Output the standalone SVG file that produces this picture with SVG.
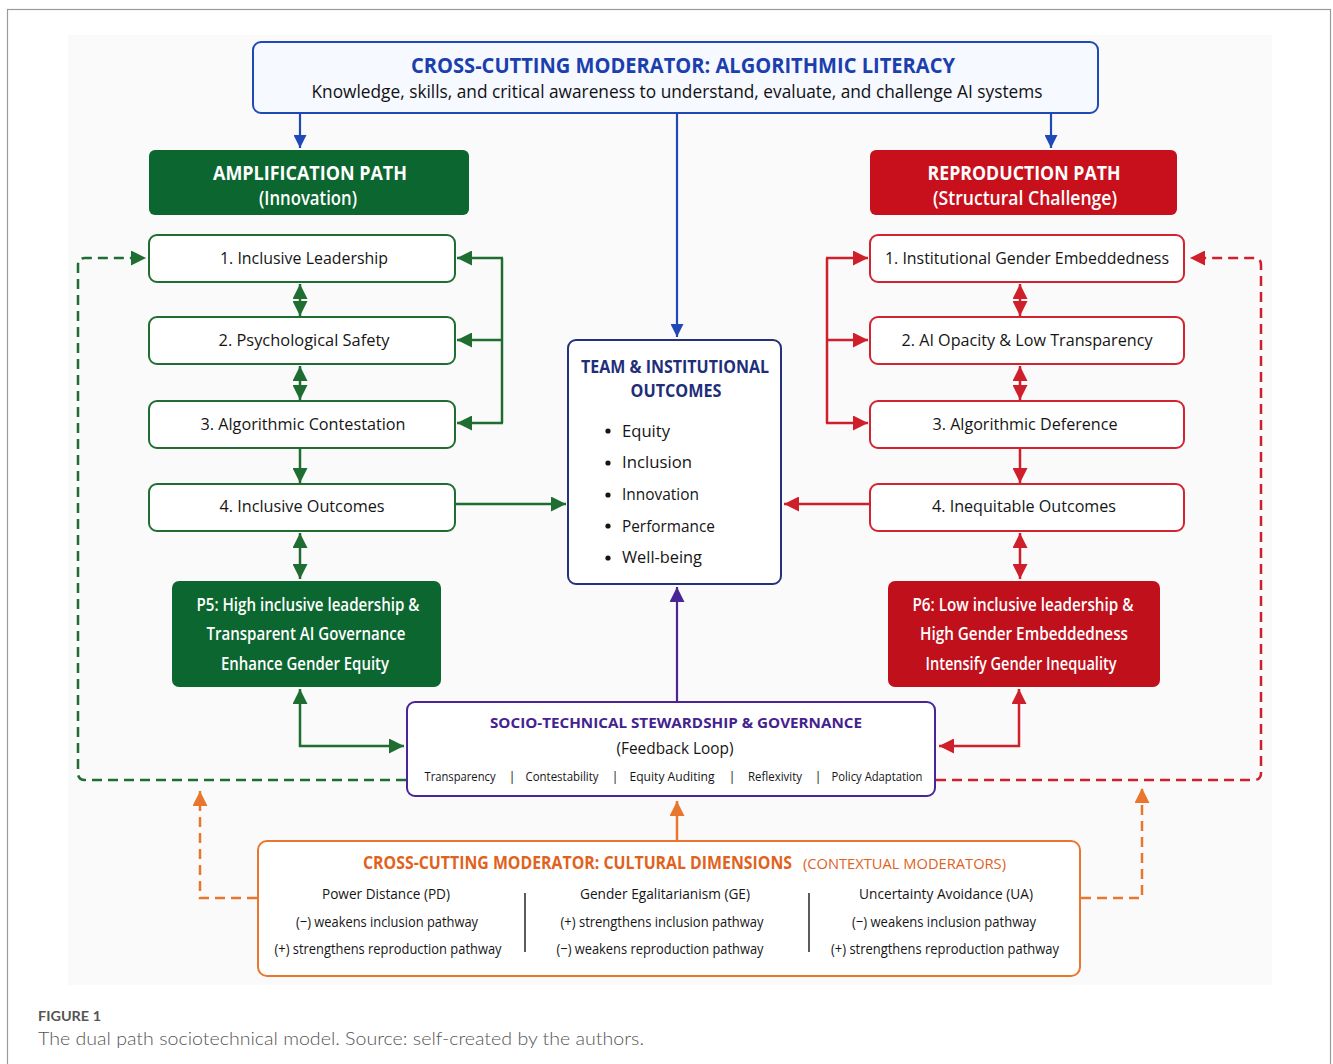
<svg xmlns="http://www.w3.org/2000/svg" width="1333" height="1064" viewBox="0 0 1333 1064">
<style>
text{font-family:"Open Sans","Noto Sans","Liberation Sans",sans-serif;}
.ttl{font-size:22px;font-weight:700;fill:#1c3fae;text-anchor:middle}
.sub{font-size:18px;font-weight:500;fill:#111;text-anchor:middle}
.hw{font-size:19px;font-weight:700;fill:#fff;text-anchor:middle}
.pw{font-size:18px;font-weight:600;fill:#fff;text-anchor:middle}
.it{font-size:17px;font-weight:500;fill:#151515;text-anchor:middle}
.nv{font-size:17px;font-weight:700;fill:#1f2e7a;text-anchor:middle}
.bl{font-size:17px;font-weight:500;fill:#151515}
.pu{font-size:15px;font-weight:700;fill:#44228f;text-anchor:middle}
.fb{font-size:16px;font-weight:500;fill:#151515;text-anchor:middle}
.sm{font-size:13px;font-weight:500;fill:#151515;text-anchor:middle}
.ot{font-size:17px;font-weight:700;fill:#e0621c}
.oc{font-size:15px;fill:#e0621c}
.cd{font-size:15px;font-weight:500;fill:#151515;text-anchor:middle}
.gbox{fill:#fff;stroke:#1f6d31;stroke-width:2}
.rbox{fill:#fff;stroke:#d12430;stroke-width:2}
.g{stroke:#1f6d31;stroke-width:2.5;fill:none}
.r{stroke:#cf1f2b;stroke-width:2.5;fill:none}
.b{stroke:#1f49b6;stroke-width:2.2;fill:none}
.p{stroke:#4a2596;stroke-width:2.2;fill:none}
.o{stroke:#e8772d;stroke-width:2.5;fill:none}
.dash{stroke-dasharray:10 6}
</style>
<defs>
<marker id="mg" viewBox="0 0 10 10" refX="10" refY="5" markerWidth="15" markerHeight="15" markerUnits="userSpaceOnUse" orient="auto-start-reverse"><path d="M0,0 L10,5 L0,10 z" fill="#1f6d31"/></marker>
<marker id="mr" viewBox="0 0 10 10" refX="10" refY="5" markerWidth="15" markerHeight="15" markerUnits="userSpaceOnUse" orient="auto-start-reverse"><path d="M0,0 L10,5 L0,10 z" fill="#cf1f2b"/></marker>
<marker id="mb" viewBox="0 0 10 10" refX="10" refY="5" markerWidth="13" markerHeight="13" markerUnits="userSpaceOnUse" orient="auto-start-reverse"><path d="M0,0 L10,5 L0,10 z" fill="#1f49b6"/></marker>
<marker id="mp" viewBox="0 0 10 10" refX="10" refY="5" markerWidth="15" markerHeight="15" markerUnits="userSpaceOnUse" orient="auto-start-reverse"><path d="M0,0 L10,5 L0,10 z" fill="#4a2596"/></marker>
<marker id="mo" viewBox="0 0 10 10" refX="10" refY="5" markerWidth="15" markerHeight="15" markerUnits="userSpaceOnUse" orient="auto-start-reverse"><path d="M0,0 L10,5 L0,10 z" fill="#e8772d"/></marker>
</defs>

<rect x="7.5" y="9.5" width="1323" height="1080" fill="#fff" stroke="#9a9a9a" stroke-width="1.2"/>
<rect x="68" y="35" width="1204" height="950" fill="#fafafa"/>

<g id="connectors">
  <path class="b" d="M300,113 V148" marker-end="url(#mb)"/>
  <path class="b" d="M1051,113 V148" marker-end="url(#mb)"/>
  <path class="b" d="M677,113 V337" marker-end="url(#mb)"/>

  <path class="g" d="M502,258 V423"/>
  <path class="g" d="M503,258 H457" marker-end="url(#mg)"/>
  <path class="g" d="M502,340 H457" marker-end="url(#mg)"/>
  <path class="g" d="M503,423 H457" marker-end="url(#mg)"/>
  <path class="g" d="M300,284 V316" marker-start="url(#mg)" marker-end="url(#mg)"/>
  <path class="g" d="M300,366 V400" marker-start="url(#mg)" marker-end="url(#mg)"/>
  <path class="g" d="M300,449 V483" marker-end="url(#mg)"/>
  <path class="g" d="M456,504 H566" marker-end="url(#mg)"/>
  <path class="g" d="M300,533 V579" marker-start="url(#mg)" marker-end="url(#mg)"/>
  <path class="g" d="M300,689 V746 H404" marker-start="url(#mg)" marker-end="url(#mg)"/>
  <path class="g dash" d="M406,780 H85 Q78,780 78,773 V265 Q78,258 85,258 H146" marker-end="url(#mg)"/>

  <path class="r" d="M827,258 V423"/>
  <path class="r" d="M826,258 H868" marker-end="url(#mr)"/>
  <path class="r" d="M827,340 H868" marker-end="url(#mr)"/>
  <path class="r" d="M826,423 H868" marker-end="url(#mr)"/>
  <path class="r" d="M1020,284 V316" marker-start="url(#mr)" marker-end="url(#mr)"/>
  <path class="r" d="M1020,366 V400" marker-start="url(#mr)" marker-end="url(#mr)"/>
  <path class="r" d="M1020,449 V483" marker-end="url(#mr)"/>
  <path class="r" d="M869,504 H784" marker-end="url(#mr)"/>
  <path class="r" d="M1020,533 V579" marker-start="url(#mr)" marker-end="url(#mr)"/>
  <path class="r" d="M1019,689 V746 H939" marker-start="url(#mr)" marker-end="url(#mr)"/>
  <path class="r dash" d="M936,780 H1254 Q1261,780 1261,773 V265 Q1261,258 1254,258 H1190" marker-end="url(#mr)"/>

  <path class="p" d="M677,702 V587" marker-end="url(#mp)"/>

  <path class="o" d="M677,841 V801" marker-end="url(#mo)"/>
  <path class="o dash" d="M257,898 H200 V791" marker-end="url(#mo)"/>
  <path class="o dash" d="M1081,898 H1142 V788" marker-end="url(#mo)"/>
</g>

<g id="algorithmic-literacy">
  <rect x="253" y="42" width="845" height="71" rx="8" fill="#f6f9ff" stroke="#1f49b6" stroke-width="2"/>
  <text class="ttl" x="683" y="73" textLength="544" lengthAdjust="spacingAndGlyphs">CROSS-CUTTING MODERATOR: ALGORITHMIC LITERACY</text>
  <text class="sub" x="677" y="98" textLength="731" lengthAdjust="spacingAndGlyphs">Knowledge, skills, and critical awareness to understand, evaluate, and challenge AI systems</text>
</g>

<g id="amplification-path">
  <rect x="149" y="150" width="320" height="65" rx="6" fill="#0b6630"/>
  <text class="hw" x="310" y="180" textLength="194" lengthAdjust="spacingAndGlyphs">AMPLIFICATION PATH</text>
  <text class="hw" x="308" y="205" textLength="98" lengthAdjust="spacingAndGlyphs" style="font-weight:600">(Innovation)</text>
</g>
<g id="reproduction-path">
  <rect x="870" y="150" width="307" height="65" rx="6" fill="#c8101d"/>
  <text class="hw" x="1024" y="180" textLength="193" lengthAdjust="spacingAndGlyphs">REPRODUCTION PATH</text>
  <text class="hw" x="1025" y="205" textLength="184" lengthAdjust="spacingAndGlyphs" style="font-weight:600">(Structural Challenge)</text>
</g>

<g id="inclusive-leadership"><rect class="gbox" x="149" y="235" width="306" height="47" rx="8"/><text class="it" x="304" y="264" textLength="168" lengthAdjust="spacingAndGlyphs">1. Inclusive Leadership</text></g>
<g id="psychological-safety"><rect class="gbox" x="149" y="317" width="306" height="47" rx="8"/><text class="it" x="304" y="346" textLength="171" lengthAdjust="spacingAndGlyphs">2. Psychological Safety</text></g>
<g id="algorithmic-contestation"><rect class="gbox" x="149" y="401" width="306" height="47" rx="8"/><text class="it" x="303" y="430" textLength="205" lengthAdjust="spacingAndGlyphs">3. Algorithmic Contestation</text></g>
<g id="inclusive-outcomes"><rect class="gbox" x="149" y="484" width="306" height="47" rx="8"/><text class="it" x="302" y="512" textLength="165" lengthAdjust="spacingAndGlyphs">4. Inclusive Outcomes</text></g>

<g id="institutional-gender-embeddedness"><rect class="rbox" x="870" y="235" width="314" height="47" rx="8"/><text class="it" x="1027" y="264" textLength="284" lengthAdjust="spacingAndGlyphs">1. Institutional Gender Embeddedness</text></g>
<g id="ai-opacity"><rect class="rbox" x="870" y="317" width="314" height="47" rx="8"/><text class="it" x="1027" y="346" textLength="251" lengthAdjust="spacingAndGlyphs">2. AI Opacity &amp; Low Transparency</text></g>
<g id="algorithmic-deference"><rect class="rbox" x="870" y="401" width="314" height="47" rx="8"/><text class="it" x="1025" y="430" textLength="185" lengthAdjust="spacingAndGlyphs">3. Algorithmic Deference</text></g>
<g id="inequitable-outcomes"><rect class="rbox" x="870" y="484" width="314" height="47" rx="8"/><text class="it" x="1024" y="512" textLength="184" lengthAdjust="spacingAndGlyphs">4. Inequitable Outcomes</text></g>

<g id="team-institutional-outcomes">
  <rect x="568" y="340" width="213" height="244" rx="8" fill="#fff" stroke="#24327c" stroke-width="2"/>
  <text class="nv" x="675" y="373" textLength="188" lengthAdjust="spacingAndGlyphs">TEAM &amp; INSTITUTIONAL</text>
  <text class="nv" x="676" y="397" textLength="91" lengthAdjust="spacingAndGlyphs">OUTCOMES</text>
  <g fill="#151515"><circle cx="608" cy="431" r="2.6"/><circle cx="608" cy="463" r="2.6"/><circle cx="608" cy="495" r="2.6"/><circle cx="608" cy="526" r="2.6"/><circle cx="608" cy="558" r="2.6"/></g>
  <text class="bl" x="622" y="437" textLength="48" lengthAdjust="spacingAndGlyphs">Equity</text>
  <text class="bl" x="622" y="468" textLength="70" lengthAdjust="spacingAndGlyphs">Inclusion</text>
  <text class="bl" x="622" y="500" textLength="77" lengthAdjust="spacingAndGlyphs">Innovation</text>
  <text class="bl" x="622" y="532" textLength="93" lengthAdjust="spacingAndGlyphs">Performance</text>
  <text class="bl" x="622" y="563" textLength="80" lengthAdjust="spacingAndGlyphs">Well-being</text>
</g>

<g id="p5">
  <rect x="172" y="581" width="269" height="106" rx="7" fill="#0b6630"/>
  <text class="pw" x="308" y="611" textLength="223" lengthAdjust="spacingAndGlyphs">P5: High inclusive leadership &amp;</text>
  <text class="pw" x="306" y="640" textLength="199" lengthAdjust="spacingAndGlyphs">Transparent AI Governance</text>
  <text class="pw" x="305" y="670" textLength="168" lengthAdjust="spacingAndGlyphs">Enhance Gender Equity</text>
</g>
<g id="p6">
  <rect x="888" y="581" width="272" height="106" rx="7" fill="#c0101c"/>
  <text class="pw" x="1023" y="611" textLength="221" lengthAdjust="spacingAndGlyphs">P6: Low inclusive leadership &amp;</text>
  <text class="pw" x="1024" y="640" textLength="208" lengthAdjust="spacingAndGlyphs">High Gender Embeddedness</text>
  <text class="pw" x="1021" y="670" textLength="191" lengthAdjust="spacingAndGlyphs">Intensify Gender Inequality</text>
</g>

<g id="stewardship-governance">
  <rect x="407" y="702" width="528" height="94" rx="8" fill="#fff" stroke="#4a2596" stroke-width="2"/>
  <text class="pu" x="676" y="728" textLength="372" lengthAdjust="spacingAndGlyphs">SOCIO-TECHNICAL STEWARDSHIP &amp; GOVERNANCE</text>
  <text class="fb" x="675" y="754" textLength="117" lengthAdjust="spacingAndGlyphs">(Feedback Loop)</text>
  <text class="sm" x="460" y="781" textLength="71" lengthAdjust="spacingAndGlyphs">Transparency</text>
  <text class="sm" x="512" y="781">|</text>
  <text class="sm" x="562" y="781" textLength="73" lengthAdjust="spacingAndGlyphs">Contestability</text>
  <text class="sm" x="615" y="781">|</text>
  <text class="sm" x="672" y="781" textLength="85" lengthAdjust="spacingAndGlyphs">Equity Auditing</text>
  <text class="sm" x="732" y="781">|</text>
  <text class="sm" x="775" y="781" textLength="54" lengthAdjust="spacingAndGlyphs">Reflexivity</text>
  <text class="sm" x="818" y="781">|</text>
  <text class="sm" x="877" y="781" textLength="91" lengthAdjust="spacingAndGlyphs">Policy Adaptation</text>
</g>

<g id="cultural-dimensions">
  <rect x="258" y="841" width="822" height="135" rx="9" fill="#fff" stroke="#e8772d" stroke-width="2"/>
  <text class="ot" x="363" y="869" textLength="429" lengthAdjust="spacingAndGlyphs">CROSS-CUTTING MODERATOR: CULTURAL DIMENSIONS</text>
  <text class="oc" x="803" y="869" textLength="203" lengthAdjust="spacingAndGlyphs">(CONTEXTUAL MODERATORS)</text>
  <line x1="525" y1="893" x2="525" y2="952" stroke="#333" stroke-width="1.6"/>
  <line x1="809" y1="893" x2="809" y2="952" stroke="#333" stroke-width="1.6"/>
  <text class="cd" x="386" y="899" textLength="128" lengthAdjust="spacingAndGlyphs">Power Distance (PD)</text>
  <text class="cd" x="387" y="927" textLength="182" lengthAdjust="spacingAndGlyphs">(−) weakens inclusion pathway</text>
  <text class="cd" x="388" y="954" textLength="227" lengthAdjust="spacingAndGlyphs">(+) strengthens reproduction pathway</text>
  <text class="cd" x="665" y="899" textLength="170" lengthAdjust="spacingAndGlyphs">Gender Egalitarianism (GE)</text>
  <text class="cd" x="662" y="927" textLength="203" lengthAdjust="spacingAndGlyphs">(+) strengthens inclusion pathway</text>
  <text class="cd" x="660" y="954" textLength="207" lengthAdjust="spacingAndGlyphs">(−) weakens reproduction pathway</text>
  <text class="cd" x="946" y="899" textLength="174" lengthAdjust="spacingAndGlyphs">Uncertainty Avoidance (UA)</text>
  <text class="cd" x="944" y="927" textLength="184" lengthAdjust="spacingAndGlyphs">(−) weakens inclusion pathway</text>
  <text class="cd" x="945" y="954" textLength="228" lengthAdjust="spacingAndGlyphs">(+) strengthens reproduction pathway</text>
</g>

<g id="caption">
  <text x="38" y="1021" style="font-family:Lato,'Open Sans',sans-serif;font-size:13px;font-weight:700;fill:#555" textLength="63" lengthAdjust="spacingAndGlyphs">FIGURE 1</text>
  <text x="38" y="1045" style="font-family:Lato,'Open Sans',sans-serif;font-size:18px;font-weight:300;fill:#555" textLength="606" lengthAdjust="spacingAndGlyphs">The dual path sociotechnical model. Source: self-created by the authors.</text>
</g>
</svg>
